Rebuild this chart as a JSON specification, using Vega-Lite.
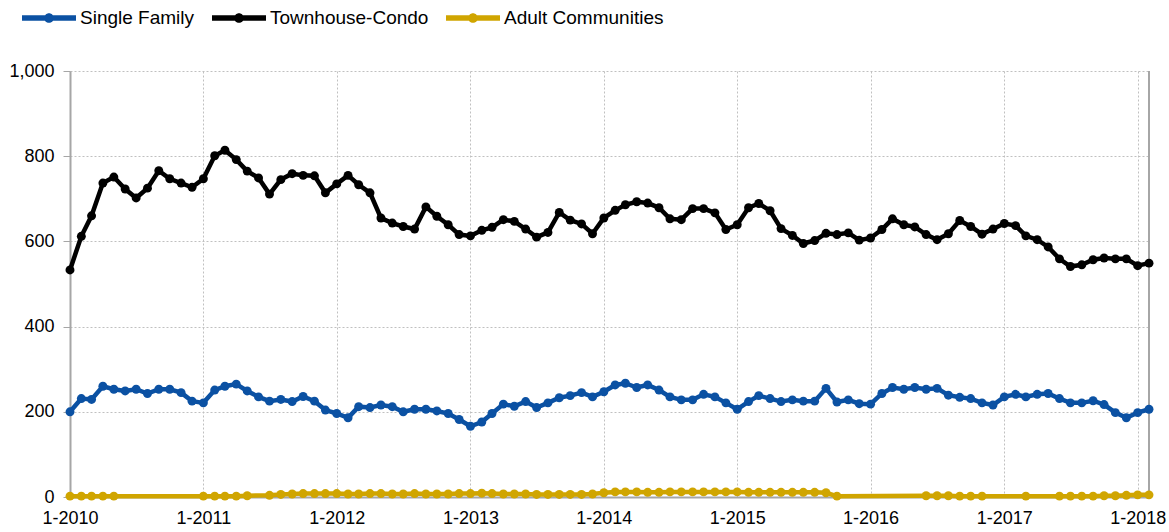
{
  "$schema": "https://vega.github.io/schema/vega-lite/v6.json",
  "width": 1079,
  "height": 426,
  "autosize": {"type": "none"},
  "padding": {"left": 70, "top": 71, "right": 20, "bottom": 35},
  "background": "white",
  "config": {
    "view": {"stroke": null},
    "font": "Liberation Sans",
    "axis": {"labelFont": "Liberation Sans", "labelFontSize": 18, "labelColor": "#000000", "gridColor": "#c0c0c0", "gridDash": [2, 2], "gridWidth": 1, "domainColor": "#a6a6a6", "tickColor": "#a6a6a6", "title": null},
    "legend": {"labelFont": "Liberation Sans", "labelFontSize": 19, "labelColor": "#000000"}
  },
  "datasets": {
    "main": [
      {"d": "2010-01", "Single Family": 200, "Townhouse-Condo": 533, "Adult Communities": 2},
      {"d": "2010-02", "Single Family": 231, "Townhouse-Condo": 612, "Adult Communities": 2},
      {"d": "2010-03", "Single Family": 229, "Townhouse-Condo": 660, "Adult Communities": 2},
      {"d": "2010-04", "Single Family": 260, "Townhouse-Condo": 737, "Adult Communities": 2},
      {"d": "2010-05", "Single Family": 253, "Townhouse-Condo": 751, "Adult Communities": 2},
      {"d": "2010-06", "Single Family": 249, "Townhouse-Condo": 723, "Adult Communities": null},
      {"d": "2010-07", "Single Family": 253, "Townhouse-Condo": 702, "Adult Communities": null},
      {"d": "2010-08", "Single Family": 243, "Townhouse-Condo": 725, "Adult Communities": null},
      {"d": "2010-09", "Single Family": 253, "Townhouse-Condo": 766, "Adult Communities": null},
      {"d": "2010-10", "Single Family": 253, "Townhouse-Condo": 747, "Adult Communities": null},
      {"d": "2010-11", "Single Family": 245, "Townhouse-Condo": 737, "Adult Communities": null},
      {"d": "2010-12", "Single Family": 225, "Townhouse-Condo": 727, "Adult Communities": null},
      {"d": "2011-01", "Single Family": 221, "Townhouse-Condo": 747, "Adult Communities": 2},
      {"d": "2011-02", "Single Family": 251, "Townhouse-Condo": 801, "Adult Communities": 2},
      {"d": "2011-03", "Single Family": 260, "Townhouse-Condo": 814, "Adult Communities": 2},
      {"d": "2011-04", "Single Family": 265, "Townhouse-Condo": 792, "Adult Communities": 2},
      {"d": "2011-05", "Single Family": 249, "Townhouse-Condo": 765, "Adult Communities": 3},
      {"d": "2011-06", "Single Family": 235, "Townhouse-Condo": 749, "Adult Communities": null},
      {"d": "2011-07", "Single Family": 225, "Townhouse-Condo": 711, "Adult Communities": 4},
      {"d": "2011-08", "Single Family": 229, "Townhouse-Condo": 745, "Adult Communities": 6},
      {"d": "2011-09", "Single Family": 224, "Townhouse-Condo": 759, "Adult Communities": 7},
      {"d": "2011-10", "Single Family": 236, "Townhouse-Condo": 755, "Adult Communities": 8},
      {"d": "2011-11", "Single Family": 225, "Townhouse-Condo": 754, "Adult Communities": 8},
      {"d": "2011-12", "Single Family": 204, "Townhouse-Condo": 714, "Adult Communities": 8},
      {"d": "2012-01", "Single Family": 196, "Townhouse-Condo": 735, "Adult Communities": 8},
      {"d": "2012-02", "Single Family": 186, "Townhouse-Condo": 755, "Adult Communities": 7},
      {"d": "2012-03", "Single Family": 212, "Townhouse-Condo": 733, "Adult Communities": 7},
      {"d": "2012-04", "Single Family": 210, "Townhouse-Condo": 714, "Adult Communities": 8},
      {"d": "2012-05", "Single Family": 216, "Townhouse-Condo": 655, "Adult Communities": 8},
      {"d": "2012-06", "Single Family": 212, "Townhouse-Condo": 643, "Adult Communities": 7},
      {"d": "2012-07", "Single Family": 200, "Townhouse-Condo": 635, "Adult Communities": 7},
      {"d": "2012-08", "Single Family": 206, "Townhouse-Condo": 629, "Adult Communities": 8},
      {"d": "2012-09", "Single Family": 206, "Townhouse-Condo": 681, "Adult Communities": 7},
      {"d": "2012-10", "Single Family": 202, "Townhouse-Condo": 659, "Adult Communities": 7},
      {"d": "2012-11", "Single Family": 196, "Townhouse-Condo": 639, "Adult Communities": 7},
      {"d": "2012-12", "Single Family": 182, "Townhouse-Condo": 616, "Adult Communities": 8},
      {"d": "2013-01", "Single Family": 166, "Townhouse-Condo": 613, "Adult Communities": 8},
      {"d": "2013-02", "Single Family": 176, "Townhouse-Condo": 626, "Adult Communities": 9},
      {"d": "2013-03", "Single Family": 196, "Townhouse-Condo": 633, "Adult Communities": 8},
      {"d": "2013-04", "Single Family": 218, "Townhouse-Condo": 651, "Adult Communities": 7},
      {"d": "2013-05", "Single Family": 213, "Townhouse-Condo": 647, "Adult Communities": 7},
      {"d": "2013-06", "Single Family": 224, "Townhouse-Condo": 629, "Adult Communities": 7},
      {"d": "2013-07", "Single Family": 210, "Townhouse-Condo": 610, "Adult Communities": 6},
      {"d": "2013-08", "Single Family": 221, "Townhouse-Condo": 621, "Adult Communities": 6},
      {"d": "2013-09", "Single Family": 233, "Townhouse-Condo": 668, "Adult Communities": 6},
      {"d": "2013-10", "Single Family": 238, "Townhouse-Condo": 650, "Adult Communities": 6},
      {"d": "2013-11", "Single Family": 245, "Townhouse-Condo": 641, "Adult Communities": 6},
      {"d": "2013-12", "Single Family": 235, "Townhouse-Condo": 618, "Adult Communities": 7},
      {"d": "2014-01", "Single Family": 247, "Townhouse-Condo": 655, "Adult Communities": 10},
      {"d": "2014-02", "Single Family": 263, "Townhouse-Condo": 673, "Adult Communities": 12},
      {"d": "2014-03", "Single Family": 267, "Townhouse-Condo": 686, "Adult Communities": 12},
      {"d": "2014-04", "Single Family": 257, "Townhouse-Condo": 693, "Adult Communities": 12},
      {"d": "2014-05", "Single Family": 263, "Townhouse-Condo": 690, "Adult Communities": 11},
      {"d": "2014-06", "Single Family": 251, "Townhouse-Condo": 679, "Adult Communities": 11},
      {"d": "2014-07", "Single Family": 235, "Townhouse-Condo": 653, "Adult Communities": 12},
      {"d": "2014-08", "Single Family": 228, "Townhouse-Condo": 651, "Adult Communities": 12},
      {"d": "2014-09", "Single Family": 228, "Townhouse-Condo": 677, "Adult Communities": 12},
      {"d": "2014-10", "Single Family": 241, "Townhouse-Condo": 677, "Adult Communities": 12},
      {"d": "2014-11", "Single Family": 235, "Townhouse-Condo": 667, "Adult Communities": 12},
      {"d": "2014-12", "Single Family": 221, "Townhouse-Condo": 628, "Adult Communities": 12},
      {"d": "2015-01", "Single Family": 206, "Townhouse-Condo": 639, "Adult Communities": 12},
      {"d": "2015-02", "Single Family": 224, "Townhouse-Condo": 679, "Adult Communities": 11},
      {"d": "2015-03", "Single Family": 238, "Townhouse-Condo": 689, "Adult Communities": 11},
      {"d": "2015-04", "Single Family": 231, "Townhouse-Condo": 672, "Adult Communities": 11},
      {"d": "2015-05", "Single Family": 224, "Townhouse-Condo": 630, "Adult Communities": 11},
      {"d": "2015-06", "Single Family": 228, "Townhouse-Condo": 614, "Adult Communities": 11},
      {"d": "2015-07", "Single Family": 225, "Townhouse-Condo": 595, "Adult Communities": 11},
      {"d": "2015-08", "Single Family": 225, "Townhouse-Condo": 602, "Adult Communities": 11},
      {"d": "2015-09", "Single Family": 255, "Townhouse-Condo": 619, "Adult Communities": 10},
      {"d": "2015-10", "Single Family": 223, "Townhouse-Condo": 616, "Adult Communities": 2},
      {"d": "2015-11", "Single Family": 228, "Townhouse-Condo": 620, "Adult Communities": null},
      {"d": "2015-12", "Single Family": 219, "Townhouse-Condo": 603, "Adult Communities": null},
      {"d": "2016-01", "Single Family": 218, "Townhouse-Condo": 608, "Adult Communities": null},
      {"d": "2016-02", "Single Family": 243, "Townhouse-Condo": 628, "Adult Communities": null},
      {"d": "2016-03", "Single Family": 257, "Townhouse-Condo": 653, "Adult Communities": null},
      {"d": "2016-04", "Single Family": 253, "Townhouse-Condo": 639, "Adult Communities": null},
      {"d": "2016-05", "Single Family": 257, "Townhouse-Condo": 634, "Adult Communities": null},
      {"d": "2016-06", "Single Family": 253, "Townhouse-Condo": 616, "Adult Communities": 3},
      {"d": "2016-07", "Single Family": 255, "Townhouse-Condo": 604, "Adult Communities": 3},
      {"d": "2016-08", "Single Family": 239, "Townhouse-Condo": 618, "Adult Communities": 3},
      {"d": "2016-09", "Single Family": 234, "Townhouse-Condo": 649, "Adult Communities": 2},
      {"d": "2016-10", "Single Family": 231, "Townhouse-Condo": 635, "Adult Communities": 2},
      {"d": "2016-11", "Single Family": 221, "Townhouse-Condo": 617, "Adult Communities": 2},
      {"d": "2016-12", "Single Family": 216, "Townhouse-Condo": 629, "Adult Communities": null},
      {"d": "2017-01", "Single Family": 235, "Townhouse-Condo": 642, "Adult Communities": null},
      {"d": "2017-02", "Single Family": 241, "Townhouse-Condo": 637, "Adult Communities": null},
      {"d": "2017-03", "Single Family": 235, "Townhouse-Condo": 613, "Adult Communities": 2},
      {"d": "2017-04", "Single Family": 241, "Townhouse-Condo": 604, "Adult Communities": null},
      {"d": "2017-05", "Single Family": 243, "Townhouse-Condo": 587, "Adult Communities": null},
      {"d": "2017-06", "Single Family": 231, "Townhouse-Condo": 559, "Adult Communities": 2},
      {"d": "2017-07", "Single Family": 221, "Townhouse-Condo": 541, "Adult Communities": 2},
      {"d": "2017-08", "Single Family": 221, "Townhouse-Condo": 545, "Adult Communities": 2},
      {"d": "2017-09", "Single Family": 226, "Townhouse-Condo": 557, "Adult Communities": 2},
      {"d": "2017-10", "Single Family": 217, "Townhouse-Condo": 561, "Adult Communities": 3},
      {"d": "2017-11", "Single Family": 198, "Townhouse-Condo": 559, "Adult Communities": 3},
      {"d": "2017-12", "Single Family": 186, "Townhouse-Condo": 559, "Adult Communities": 4},
      {"d": "2018-01", "Single Family": 198, "Townhouse-Condo": 543, "Adult Communities": 5},
      {"d": "2018-02", "Single Family": 206, "Townhouse-Condo": 549, "Adult Communities": 5}
    ],
    "edge": [{"d": "2018-02"}]
  },
  "layer": [
    {
      "data": {"name": "edge"},
      "mark": {"type": "rule", "color": "#a6a6a6", "strokeWidth": 2},
      "encoding": {
        "x": {"field": "d", "type": "temporal", "scale": {"type": "utc"}}
      }
    },
    {
      "data": {"name": "main"},
      "transform": [
        {"fold": ["Single Family", "Townhouse-Condo", "Adult Communities"], "as": ["series", "value"]},
        {"filter": "datum.value != null"}
      ],
      "encoding": {
        "x": {
          "field": "d", "type": "temporal",
          "scale": {"type": "utc", "domain": [{"year": 2010, "month": 1, "date": 1, "utc": true}, {"year": 2018, "month": 2, "date": 1, "utc": true}]},
          "axis": {
            "values": [
              {"year": 2010, "month": 1, "date": 1, "utc": true},
              {"year": 2011, "month": 1, "date": 1, "utc": true},
              {"year": 2012, "month": 1, "date": 1, "utc": true},
              {"year": 2013, "month": 1, "date": 1, "utc": true},
              {"year": 2014, "month": 1, "date": 1, "utc": true},
              {"year": 2015, "month": 1, "date": 1, "utc": true},
              {"year": 2016, "month": 1, "date": 1, "utc": true},
              {"year": 2017, "month": 1, "date": 1, "utc": true},
              {"year": 2018, "month": 1, "date": 1, "utc": true}
            ],
            "format": "%-m-%Y",
            "grid": true,
            "ticks": false,
            "domain": true,
            "domainWidth": 2,
            "labelPadding": 12,
            "labelFlush": false
          }
        },
        "y": {
          "field": "value", "type": "quantitative",
          "scale": {"domain": [0, 1000], "nice": false},
          "axis": {
            "values": [0, 200, 400, 600, 800, 1000],
            "format": ",.0f",
            "grid": true,
            "ticks": true,
            "tickSize": 7,
            "domainWidth": 2,
            "labelPadding": 9
          }
        },
        "color": {
          "field": "series", "type": "nominal",
          "scale": {"domain": ["Single Family", "Townhouse-Condo", "Adult Communities"], "range": ["#0b51a3", "#000000", "#d0a500"]},
          "legend": {
            "orient": "none",
            "legendX": -48,
            "legendY": -80,
            "direction": "horizontal",
            "title": null,
            "symbolType": "M-1,-0.1L1,-0.1L1,0.1L-1,0.1Z M-0.18,0A0.18,0.18,0,1,1,0.18,0A0.18,0.18,0,1,1,-0.18,0Z",
            "symbolSize": 2916,
            "symbolStrokeWidth": 0,
            "labelOffset": 4,
            "columnPadding": 17,
            "encode": {"symbols": {"update": {"fill": {"scale": "color", "field": "value"}, "stroke": {"value": "transparent"}, "strokeWidth": {"value": 0}, "opacity": {"value": 1}}}}
          }
        }
      },
      "layer": [
        {"mark": {"type": "line", "strokeWidth": 4.5, "interpolate": "linear"}},
        {"mark": {"type": "point", "filled": true, "size": 80, "opacity": 1}}
      ]
    }
  ]
}
